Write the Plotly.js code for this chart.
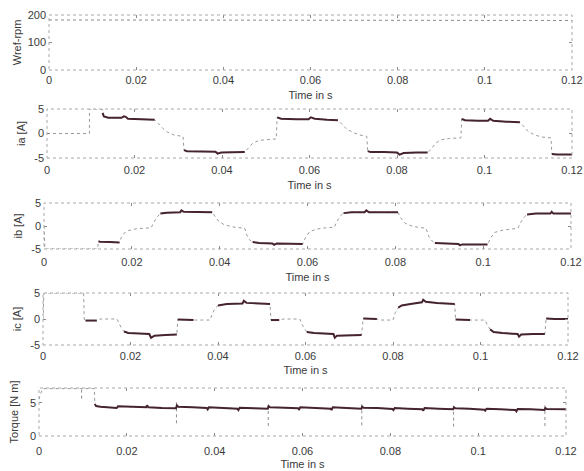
<!DOCTYPE html>
<html><head><meta charset="utf-8">
<script src="https://cdn.plot.ly/plotly-3.0.1.min.js"></script>
<style>html,body{margin:0;padding:0;background:#fff}#chart{width:584px;height:471px}</style>
</head><body><div id="chart"></div>
<script>
// ---------- data ----------
const xTickVals = [0, 0.02, 0.04, 0.06, 0.08, 0.1, 0.12];
const xTickText = ['0', '0.02', '0.04', '0.06', '0.08', '0.1', '0.12'];

const speedTickVals = [0, 100, 200];
const speedTickText = ['0', '100', '200'];
const curTickVals = [-5, 0, 5];
const curTickText = ['-5', '0', '5'];
const tqTickVals = [0, 5];
const tqTickText = ['0', '5'];

// reference speed (rpm)
const spT = [0, 0.12];
const spV = [182, 180];

// phase current a
const iaT = [0,0.0097,0.0097,0.0126,
  0.0127,0.0130,0.0140,0.0170,0.0176,0.0180,0.0185,0.0215,0.0246,
  0.0255,0.0265,0.0275,0.0290,0.0311,
  0.0313,0.0320,0.0385,0.0390,0.0398,0.0420,0.0452,
  0.0460,0.0470,0.0485,0.0505,0.0524,
  0.0526,0.0535,0.0570,0.0598,0.0603,0.0612,0.0640,0.0665,
  0.0675,0.0685,0.0700,0.0715,0.0731,
  0.0733,0.0740,0.0770,0.0800,0.0806,0.0815,0.0845,0.0870,
  0.0878,0.0888,0.0900,0.0920,0.0946,
  0.0948,0.0955,0.0985,0.1008,0.1013,0.1020,0.1050,0.1081,
  0.1090,0.1100,0.1115,0.1130,0.1152,
  0.1154,0.1165,0.1200];
const iaV = [0,0,5,5,
  4.2,3.5,3.2,3.2,3.5,3.4,3.0,2.9,2.8,
  2.0,1.0,0.3,-0.3,-0.6,
  -3.4,-3.6,-3.7,-4.1,-3.9,-3.8,-3.8,
  -3.0,-2.0,-1.4,-1.2,-1.1,
  3.3,3.0,2.9,2.9,3.3,3.0,2.8,2.7,
  1.8,0.9,0.2,-0.3,-0.6,
  -3.6,-3.8,-3.8,-3.9,-4.3,-4.0,-3.9,-3.9,
  -3.2,-2.0,-1.3,-1.0,-0.9,
  3.0,2.7,2.6,2.6,3.0,2.6,2.4,2.3,
  1.4,0.4,-0.3,-0.7,-0.9,
  -4.2,-4.3,-4.3];
const iaOn = [[0.0127,0.0246],[0.0313,0.0452],[0.0526,0.0665],[0.0733,0.0870],[0.0948,0.1081],[0.1154,0.12]];

// phase current b
const ibT = [0,0.0002,0.0122,
  0.0124,0.0127,0.0150,0.0172,
  0.0176,0.0182,0.0192,0.0210,0.0244,
  0.0250,0.0258,0.0265,0.0280,0.0310,0.0313,0.0318,0.0350,0.0383,
  0.0390,0.0398,0.0410,0.0430,0.0457,
  0.0462,0.0468,0.0475,0.0490,0.0520,0.0524,0.0530,0.0560,0.0589,
  0.0595,0.0605,0.0620,0.0640,0.0661,
  0.0667,0.0675,0.0682,0.0700,0.0730,0.0734,0.0740,0.0770,0.0806,
  0.0812,0.0822,0.0840,0.0860,0.0870,
  0.0876,0.0884,0.0890,0.0920,0.0944,0.0947,0.0952,0.0980,0.1010,
  0.1016,0.1026,0.1045,0.1065,0.1079,
  0.1086,0.1094,0.1100,0.1120,0.1153,0.1156,0.1160,0.1200];
const ibV = [0,-5,-5,
  -3.3,-3.4,-3.5,-3.6,
  -2.5,-1.6,-1.0,-0.6,-0.4,
  0.8,2.0,2.7,2.9,3.0,3.4,3.1,3.0,3.0,
  2.0,1.0,0.3,-0.2,-0.5,
  -2.0,-3.0,-3.5,-3.7,-3.8,-4.1,-3.8,-3.8,-3.9,
  -2.6,-1.2,-0.7,-0.4,-0.3,
  1.0,2.2,2.8,3.0,3.0,3.4,3.0,3.0,3.0,
  1.8,0.6,-0.1,-0.4,-0.5,
  -2.2,-3.3,-3.7,-3.9,-3.9,-4.2,-4.0,-4.0,-4.0,
  -2.8,-1.4,-0.9,-0.6,-0.5,
  0.9,2.0,2.5,2.7,2.7,3.1,2.7,2.7];
const ibOn = [[0.0124,0.0172],[0.0265,0.0383],[0.0475,0.0589],[0.0682,0.0806],[0.0890,0.1010],[0.1100,0.12]];

// phase current c
const icT = [0,0.0002,0.0093,0.0094,
  0.0097,0.0110,0.0123,
  0.0130,0.0169,
  0.0175,0.0180,0.0185,0.0195,0.0220,0.0243,0.0247,0.0255,0.0280,0.0306,
  0.0308,0.0325,0.0344,
  0.0350,0.0382,
  0.0388,0.0395,0.0400,0.0420,0.0456,0.0459,0.0465,0.0490,0.0519,
  0.0521,0.0530,0.0540,
  0.0550,0.0587,
  0.0593,0.0598,0.0603,0.0620,0.0664,0.0667,0.0672,0.0700,0.0728,
  0.0732,0.0745,0.0763,
  0.0770,0.0800,
  0.0805,0.0812,0.0820,0.0840,0.0866,0.0869,0.0875,0.0900,0.0941,
  0.0943,0.0960,0.0976,
  0.0985,0.1010,
  0.1015,0.1022,0.1030,0.1050,0.1085,0.1088,0.1093,0.1120,0.1147,
  0.1150,0.1170,0.1200];
const icV = [0,5,5,0,
  -0.3,-0.3,-0.3,
  0,0,
  -1.0,-1.9,-2.4,-2.7,-2.8,-2.9,-3.6,-3.2,-3.1,-3.0,
  -0.1,-0.2,-0.2,
  -0.2,-0.2,
  1.2,2.2,2.6,2.9,3.0,3.5,3.1,3.0,2.9,
  -0.2,-0.2,-0.2,
  0,0,
  -1.2,-2.0,-2.5,-2.7,-2.9,-3.6,-3.2,-3.1,-3.1,
  0.1,0.0,0.0,
  -0.2,-0.2,
  1.2,2.2,2.6,2.9,3.2,3.7,3.3,3.1,2.9,
  -0.1,-0.2,-0.2,
  -0.2,-0.2,
  -1.0,-2.0,-2.5,-2.7,-2.9,-3.4,-3.0,-2.9,-2.9,
  0.1,0.0,0.0];
const icOn = [[0.0097,0.0123],[0.0185,0.0306],[0.0308,0.0344],[0.0400,0.0519],[0.0521,0.0540],
  [0.0603,0.0728],[0.0732,0.0763],[0.0812,0.0941],[0.0943,0.0976],[0.1022,0.1147],[0.1150,0.12]];

// electromagnetic torque
const tqT = [0,0.0004,0.0009,0.0126,
  0.0127,0.0130,0.0140,0.0160,0.0175,0.0177,0.0180,0.0210,0.0244,0.0246,0.0249,0.0280,0.0312,
  0.0314,0.0317,0.0350,0.0382,0.0384,0.0387,0.0420,0.0452,0.0454,0.0457,0.0490,0.0521,
  0.0523,0.0526,0.0560,0.0590,0.0592,0.0595,0.0630,0.0664,0.0666,0.0669,0.0700,0.0734,
  0.0736,0.0739,0.0770,0.0805,0.0807,0.0810,0.0840,0.0873,0.0875,0.0878,0.0910,0.0943,
  0.0945,0.0948,0.0980,0.1014,0.1016,0.1019,0.1050,0.1085,0.1087,0.1090,0.1120,0.1151,
  0.1153,0.1156,0.1200];
const tqV = [5.5,6.4,7.1,7.1,
  4.8,4.5,4.4,4.35,4.3,4.2,4.45,4.35,4.3,4.6,4.3,4.2,4.15,
  4.6,4.4,4.3,4.2,4.0,4.3,4.2,4.1,3.9,4.25,4.15,4.1,
  4.5,4.3,4.25,4.15,4.0,4.3,4.2,4.1,3.9,4.3,4.2,4.1,
  4.4,4.25,4.2,4.05,3.9,4.2,4.1,4.0,3.8,4.2,4.1,4.0,
  4.3,4.15,4.1,3.95,3.8,4.1,4.0,3.9,3.7,4.05,4.0,3.9,
  4.2,4.05,4.0];
const tqOn = [[0.0127,0.12]];
const tqSpikeT = [0.0097,0.0313,0.0522,0.0735,0.0944,0.1152];
const tqSpikeLo = [5.6,1.9,1.5,1.6,1.4,1.5];
const tqSpikeHi = [7.1,5.1,4.9,4.8,4.7,4.6];

// ---------- helpers ----------
function onSegments(t, v, on) {
  const x = [], y = [];
  on.forEach(([a, b]) => {
    for (let i = 0; i < t.length; i++) {
      if (t[i] >= a - 1e-9 && t[i] <= b + 1e-9) { x.push(t[i]); y.push(v[i]); }
    }
    x.push(null); y.push(null);
  });
  return {x, y};
}
const GREY = '#9a9a9a';
const DARK = '#45232f';
function greyTrace(t, v, n) {
  return {type:'scatter', mode:'lines', x:t, y:v, xaxis:'x'+n, yaxis:'y'+n,
    line:{color:GREY, width:1, dash:'dot'}, hoverinfo:'skip', showlegend:false};
}
function darkTrace(t, v, on, n) {
  const s = onSegments(t, v, on);
  return {type:'scatter', mode:'lines', x:s.x, y:s.y, xaxis:'x'+n, yaxis:'y'+n,
    line:{color:DARK, width:2}, connectgaps:false, hoverinfo:'skip', showlegend:false};
}
const spX = [], spY = [];
tqSpikeT.forEach((t, i) => { spX.push(t, t, null); spY.push(tqSpikeLo[i], tqSpikeHi[i], null); });

const traces = [
  {type:'scatter', mode:'lines', x:spT, y:spV, xaxis:'x', yaxis:'y',
   line:{color:'#8a8a8a', width:1, dash:'dot'}, showlegend:false, hoverinfo:'skip'},
  greyTrace(iaT, iaV, 2), darkTrace(iaT, iaV, iaOn, 2),
  greyTrace(ibT, ibV, 3), darkTrace(ibT, ibV, ibOn, 3),
  greyTrace(icT, icV, 4), darkTrace(icT, icV, icOn, 4),
  greyTrace(tqT, tqV, 5),
  {type:'scatter', mode:'lines', x:spX, y:spY, xaxis:'x5', yaxis:'y5',
   line:{color:'#8f8f8f', width:1, dash:'dot'}, showlegend:false, hoverinfo:'skip'},
  darkTrace(tqT, tqV, tqOn, 5)
];

// ---------- layout ----------
const W = 584, H = 471;
const boxes = [
  {x:[49,572], y:[15,70],  yr:[0,200],  tv:speedTickVals, tt:speedTickText, yt:'Wref-rpm', ys:3,  xs:6, xl:2},
  {x:[47,572], y:[109,158], yr:[-5,5],  tv:curTickVals, tt:curTickText, yt:'ia [A]', ys:6, xs:6, xl:4},
  {x:[44,571], y:[203,249], yr:[-5,5],  tv:curTickVals, tt:curTickText, yt:'ib [A]', ys:6, xs:6, xl:5},
  {x:[43,568], y:[293,345], yr:[-5,5],  tv:curTickVals, tt:curTickText, yt:'ic [A]', ys:6, xs:5, xl:3},
  {x:[39,566], y:[388,436], yr:[0,7.2], tv:tqTickVals, tt:tqTickText, yt:'Torque [N m]', ys:9, xs:4, xl:7}
];
const FONT = {family:'Liberation Sans, Arial, sans-serif', size:11, color:'#3a3a3a'};
const layout = {
  width:W, height:H, margin:{l:0, r:0, t:0, b:0},
  paper_bgcolor:'#ffffff', plot_bgcolor:'#ffffff',
  font:FONT, showlegend:false, shapes:[]
};
boxes.forEach((b, i) => {
  const n = i + 1, sx = n === 1 ? '' : n;
  layout['xaxis' + sx] = {
    domain:[b.x[0]/W, b.x[1]/W], anchor:'y' + sx, range:[0, 0.12],
    tickvals:xTickVals, ticktext:xTickText, ticks:'inside', ticklen:3, tickcolor:'#8a8a8a',
    mirror:'ticks', showline:false, showgrid:false, zeroline:false,
    tickfont:FONT, ticklabelstandoff:b.xl,
    title:{text:'Time in s', font:FONT, standoff:b.xs}
  };
  layout['yaxis' + sx] = {
    domain:[1 - b.y[1]/H, 1 - b.y[0]/H], anchor:'x' + sx, range:b.yr,
    tickvals:b.tv, ticktext:b.tt, ticks:'inside', ticklen:3, tickcolor:'#8a8a8a',
    mirror:'ticks', showline:false, showgrid:false, zeroline:false,
    tickfont:FONT, ticklabelstandoff:2,
    title:{text:b.yt, font:FONT, standoff:b.ys}
  };
  layout.shapes.push({type:'rect', xref:'x' + sx + ' domain', yref:'y' + sx + ' domain',
    x0:0, x1:1, y0:0, y1:1, line:{color:'#a8a8a8', width:1, dash:'dot'}, layer:'above'});
});
Plotly.newPlot('chart', traces, layout, {staticPlot:true, displayModeBar:false});
</script></body></html>
